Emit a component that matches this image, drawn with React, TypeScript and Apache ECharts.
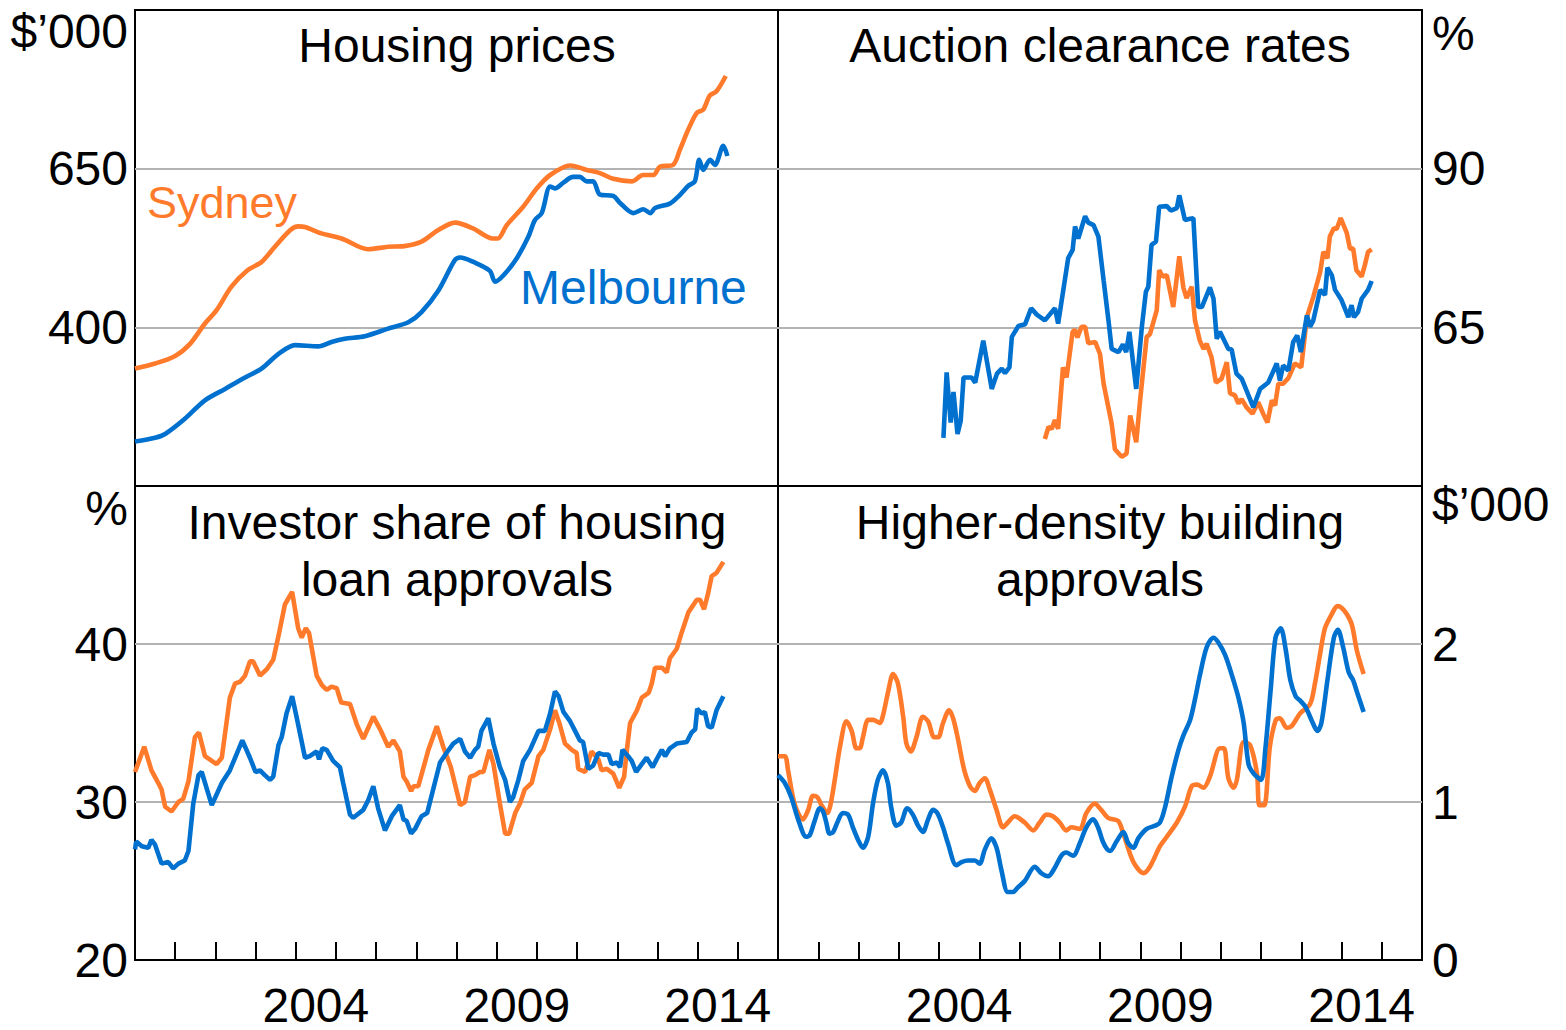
import React, { useEffect, useRef } from 'react';
import * as echarts from 'echarts';

// ---------- DATA (decimal year, value) ----------
const sydPrice = [[2000.0,335],[2000.5,343],[2001.0,355],[2001.37,374],[2001.74,406],[2002.03,427],[2002.4,464],[2002.8,490],[2003.15,503],[2003.48,527],[2003.86,553],[2004.06,559],[2004.23,558],[2004.64,548],[2005.14,540],[2005.8,523],[2006.3,527],[2006.7,528],[2007.13,535],[2007.54,553],[2007.96,565],[2008.41,556],[2008.9,540],[2009.03,540],[2009.25,561],[2009.66,590],[2010.0,619],[2010.33,640],[2010.83,655],[2011.24,648],[2011.57,643],[2011.9,634],[2012.36,630],[2012.64,640],[2012.9,640],[2013.06,653],[2013.39,656],[2013.56,680],[2013.77,712],[2013.98,738],[2014.14,743],[2014.3,765],[2014.47,772],[2014.7,796]];
const melPrice = [[2000.0,220],[2000.5,226],[2000.75,232],[2001.24,256],[2001.74,285],[2002.24,303],[2002.74,321],[2003.15,335],[2003.57,358],[2003.98,372],[2004.56,370],[2004.89,377],[2005.22,382],[2005.72,386],[2006.3,398],[2006.8,408],[2007.13,424],[2007.55,458],[2007.96,506],[2008.09,510],[2008.42,503],[2008.83,489],[2008.96,472],[2009.17,482],[2009.5,509],[2009.79,543],[2009.95,569],[2010.12,580],[2010.33,622],[2010.45,619],[2010.66,628],[2010.9,637],[2011.07,637],[2011.24,630],[2011.4,630],[2011.57,609],[2011.9,607],[2012.07,596],[2012.4,580],[2012.65,586],[2012.82,580],[2012.94,588],[2013.31,595],[2013.52,606],[2013.77,623],[2013.93,630],[2014.04,664],[2014.14,648],[2014.31,664],[2014.43,656],[2014.64,686],[2014.74,670]];

const sydAuction = [[2006.63,47.4],[2006.72,49.3],[2006.8,49.0],[2006.88,50.4],[2006.96,49.0],[2007.08,58.7],[2007.17,57.1],[2007.32,64.3],[2007.38,64.6],[2007.44,63.4],[2007.54,65.1],[2007.63,65.1],[2007.71,62.5],[2007.88,62.7],[2008.0,60.8],[2008.09,56.1],[2008.29,49.8],[2008.37,45.8],[2008.54,44.6],[2008.66,45.1],[2008.75,51.1],[2008.9,46.9],[2009.0,53.7],[2009.16,63.5],[2009.24,63.9],[2009.41,67.7],[2009.47,74.0],[2009.56,73.0],[2009.66,73.2],[2009.82,68.2],[2009.97,76.2],[2010.07,71.3],[2010.15,69.6],[2010.28,71.4],[2010.36,66.1],[2010.48,62.9],[2010.57,61.6],[2010.65,62.4],[2010.77,60.3],[2010.88,56.3],[2011.02,56.9],[2011.15,59.5],[2011.23,54.6],[2011.35,54.3],[2011.44,53.0],[2011.52,53.7],[2011.64,52.4],[2011.79,51.4],[2011.93,53.2],[2012.06,51.3],[2012.16,50.0],[2012.27,53.5],[2012.35,52.7],[2012.43,56.1],[2012.55,56.1],[2012.68,57.0],[2012.84,59.3],[2013.0,58.7],[2013.14,66.6],[2013.3,69.8],[2013.47,73.7],[2013.55,76.9],[2013.65,75.9],[2013.71,79.3],[2013.81,80.6],[2013.88,80.5],[2013.98,82.2],[2014.13,79.9],[2014.21,77.4],[2014.29,77.4],[2014.37,74.0],[2014.5,73.0],[2014.58,74.8],[2014.66,76.9],[2014.75,77.3]];
const melAuction = [[2004.11,47.6],[2004.19,57.9],[2004.29,50.0],[2004.36,54.8],[2004.46,48.2],[2004.54,50.3],[2004.61,57.1],[2004.81,57.1],[2004.9,56.3],[2005.1,62.9],[2005.31,55.3],[2005.44,57.7],[2005.56,58.5],[2005.64,57.8],[2005.75,58.7],[2005.81,63.5],[2005.97,65.2],[2006.14,65.5],[2006.29,68.0],[2006.43,67.0],[2006.63,66.1],[2006.88,68.0],[2006.96,65.6],[2007.21,75.9],[2007.32,77.2],[2007.38,80.9],[2007.46,79.0],[2007.63,82.5],[2007.71,81.5],[2007.84,81.1],[2007.96,79.3],[2008.09,72.4],[2008.21,66.1],[2008.29,61.6],[2008.46,61.1],[2008.57,62.3],[2008.65,61.1],[2008.73,64.3],[2008.9,55.3],[2009.04,65.1],[2009.14,70.6],[2009.2,71.4],[2009.28,78.0],[2009.39,78.5],[2009.47,84.0],[2009.66,84.1],[2009.76,83.4],[2009.91,83.8],[2009.97,85.8],[2010.11,81.9],[2010.24,82.1],[2010.32,82.2],[2010.44,68.2],[2010.53,68.2],[2010.73,71.3],[2010.82,69.5],[2010.9,63.2],[2010.98,64.3],[2011.19,61.6],[2011.27,61.5],[2011.39,57.7],[2011.52,56.9],[2011.81,52.4],[2011.98,55.3],[2012.18,56.3],[2012.39,59.3],[2012.47,56.6],[2012.55,59.0],[2012.68,58.2],[2012.8,62.7],[2012.9,63.7],[2012.99,61.1],[2013.14,66.9],[2013.22,65.1],[2013.3,66.1],[2013.47,70.9],[2013.59,70.1],[2013.65,74.4],[2013.76,73.2],[2013.84,70.9],[2014.0,69.3],[2014.17,66.6],[2014.25,68.5],[2014.31,66.6],[2014.41,67.4],[2014.5,69.5],[2014.66,70.9],[2014.75,72.3]];

const sydInvestor = [[2000.0,31.9],[2000.23,33.5],[2000.41,32.0],[2000.58,31.2],[2000.66,30.8],[2000.75,29.7],[2000.91,29.4],[2001.08,30.0],[2001.2,30.2],[2001.33,31.3],[2001.49,34.1],[2001.59,34.4],[2001.74,32.9],[2002.03,32.4],[2002.16,32.8],[2002.36,36.6],[2002.49,37.5],[2002.61,37.6],[2002.74,38.0],[2002.86,38.9],[2002.94,38.9],[2003.11,38.0],[2003.28,38.4],[2003.44,39.0],[2003.57,40.5],[2003.73,42.5],[2003.91,43.3],[2004.06,41.0],[2004.15,40.4],[2004.25,41.0],[2004.33,40.7],[2004.52,38.0],[2004.65,37.4],[2004.77,37.1],[2004.89,37.3],[2005.02,37.2],[2005.13,36.3],[2005.35,36.2],[2005.52,34.9],[2005.68,34.0],[2005.93,35.4],[2006.1,34.6],[2006.3,33.5],[2006.43,33.9],[2006.59,33.2],[2006.68,31.6],[2006.76,31.3],[2006.87,30.7],[2006.93,31.0],[2007.05,31.0],[2007.3,33.3],[2007.51,34.8],[2007.67,33.5],[2007.86,32.2],[2008.09,29.8],[2008.21,30.0],[2008.34,31.6],[2008.46,31.7],[2008.58,31.9],[2008.67,31.9],[2008.82,33.3],[2008.92,32.4],[2009.08,29.9],[2009.21,28.0],[2009.31,28.0],[2009.46,29.3],[2009.58,29.9],[2009.7,30.8],[2009.87,31.2],[2010.04,32.9],[2010.16,33.3],[2010.33,34.6],[2010.45,35.8],[2010.57,34.9],[2010.7,33.7],[2010.87,33.3],[2010.99,33.1],[2011.03,32.1],[2011.2,31.9],[2011.36,33.2],[2011.53,32.7],[2011.61,32.0],[2011.74,32.1],[2011.9,31.8],[2012.05,30.9],[2012.17,31.6],[2012.24,33.3],[2012.32,35.0],[2012.49,35.8],[2012.61,36.6],[2012.78,36.9],[2012.86,37.5],[2012.94,38.5],[2013.11,38.5],[2013.23,38.2],[2013.31,39.1],[2013.48,39.7],[2013.6,40.7],[2013.77,42.0],[2013.98,42.8],[2014.06,42.8],[2014.16,42.2],[2014.26,43.2],[2014.35,44.3],[2014.47,44.5],[2014.64,45.2]];
const melInvestor = [[2000.0,27.0],[2000.03,27.5],[2000.17,27.2],[2000.33,27.1],[2000.41,27.6],[2000.5,27.3],[2000.66,26.1],[2000.83,26.2],[2000.95,25.8],[2001.08,26.1],[2001.24,26.3],[2001.33,26.9],[2001.45,29.9],[2001.58,31.7],[2001.66,31.9],[2001.91,29.8],[2002.16,31.2],[2002.36,32.0],[2002.49,32.8],[2002.67,33.9],[2002.86,32.8],[2003.0,31.9],[2003.11,32.0],[2003.23,31.7],[2003.36,31.4],[2003.44,31.6],[2003.57,33.6],[2003.65,34.1],[2003.77,35.6],[2003.91,36.7],[2004.06,34.9],[2004.23,32.8],[2004.35,32.9],[2004.52,33.2],[2004.58,32.7],[2004.66,33.4],[2004.77,33.3],[2004.93,32.6],[2005.1,32.2],[2005.18,31.2],[2005.35,29.2],[2005.43,29.0],[2005.68,29.5],[2005.8,30.1],[2005.93,31.0],[2006.05,29.6],[2006.22,28.2],[2006.39,29.1],[2006.59,29.8],[2006.68,28.9],[2006.76,28.8],[2006.87,28.0],[2006.97,28.3],[2007.13,29.1],[2007.27,29.3],[2007.46,31.2],[2007.59,32.5],[2007.75,33.1],[2007.92,33.7],[2008.09,34.0],[2008.21,33.2],[2008.34,32.8],[2008.46,33.3],[2008.54,33.5],[2008.62,34.5],[2008.79,35.3],[2008.92,33.7],[2009.08,32.2],[2009.21,31.4],[2009.33,30.0],[2009.41,30.3],[2009.54,31.4],[2009.66,32.6],[2009.83,33.3],[2010.04,34.5],[2010.2,34.5],[2010.33,35.6],[2010.45,37.0],[2010.54,36.7],[2010.66,35.7],[2010.83,35.1],[2010.95,34.5],[2011.07,33.9],[2011.15,33.8],[2011.28,32.1],[2011.4,32.3],[2011.53,33.1],[2011.65,33.0],[2011.78,33.0],[2011.86,32.4],[2011.99,32.5],[2012.07,32.2],[2012.13,33.3],[2012.27,32.9],[2012.36,32.6],[2012.47,31.9],[2012.61,32.4],[2012.73,32.8],[2012.88,32.2],[2012.98,32.7],[2013.11,33.3],[2013.19,32.9],[2013.31,33.4],[2013.48,33.7],[2013.73,33.8],[2013.85,34.4],[2013.94,34.6],[2013.99,35.9],[2014.1,35.6],[2014.18,35.7],[2014.26,34.8],[2014.35,34.7],[2014.47,35.8],[2014.64,36.7]];

const sydDensity = [[2000.0,1.29],[2000.17,1.29],[2000.25,1.20],[2000.41,0.99],[2000.62,0.89],[2000.75,0.95],[2000.87,1.04],[2000.98,1.03],[2001.08,0.98],[2001.23,0.93],[2001.31,0.99],[2001.41,1.14],[2001.54,1.35],[2001.7,1.51],[2001.83,1.45],[2001.95,1.34],[2002.03,1.34],[2002.11,1.41],[2002.24,1.52],[2002.36,1.52],[2002.53,1.50],[2002.61,1.55],[2002.73,1.69],[2002.86,1.81],[2002.98,1.75],[2003.11,1.54],[2003.19,1.37],[2003.3,1.32],[2003.44,1.41],[2003.6,1.54],[2003.73,1.51],[2003.88,1.41],[2003.98,1.41],[2004.1,1.50],[2004.25,1.58],[2004.35,1.53],[2004.47,1.40],[2004.62,1.21],[2004.77,1.10],[2004.89,1.07],[2005.01,1.12],[2005.14,1.15],[2005.26,1.08],[2005.43,0.95],[2005.59,0.84],[2005.71,0.87],[2005.88,0.91],[2006.13,0.87],[2006.34,0.82],[2006.5,0.87],[2006.67,0.92],[2006.83,0.91],[2007.0,0.87],[2007.16,0.82],[2007.29,0.84],[2007.5,0.83],[2007.66,0.93],[2007.87,0.99],[2008.03,0.95],[2008.2,0.90],[2008.45,0.88],[2008.58,0.80],[2008.83,0.62],[2009.08,0.55],[2009.24,0.59],[2009.49,0.72],[2009.66,0.78],[2009.91,0.87],[2010.11,0.97],[2010.28,1.10],[2010.41,1.11],[2010.57,1.09],[2010.73,1.16],[2010.98,1.34],[2011.08,1.34],[2011.19,1.15],[2011.32,1.09],[2011.4,1.14],[2011.57,1.38],[2011.73,1.36],[2011.9,1.18],[2011.96,0.98],[2012.08,0.98],[2012.22,1.35],[2012.37,1.52],[2012.47,1.53],[2012.64,1.47],[2012.76,1.48],[2012.97,1.56],[2013.22,1.62],[2013.34,1.75],[2013.47,1.94],[2013.59,2.10],[2013.76,2.19],[2013.9,2.24],[2014.0,2.23],[2014.13,2.19],[2014.26,2.12],[2014.38,1.96],[2014.55,1.81]];
const melDensity = [[2000.0,1.17],[2000.17,1.12],[2000.33,1.03],[2000.5,0.89],[2000.7,0.78],[2000.79,0.79],[2000.91,0.88],[2001.04,0.96],[2001.12,0.94],[2001.2,0.87],[2001.28,0.80],[2001.37,0.81],[2001.49,0.88],[2001.61,0.93],[2001.74,0.92],[2001.86,0.84],[2001.99,0.76],[2002.11,0.71],[2002.24,0.78],[2002.36,0.99],[2002.48,1.14],[2002.61,1.20],[2002.73,1.12],[2002.81,0.97],[2002.94,0.85],[2003.06,0.87],[2003.21,0.96],[2003.35,0.92],[2003.48,0.85],[2003.6,0.81],[2003.73,0.89],[2003.85,0.95],[2003.96,0.93],[2004.1,0.84],[2004.22,0.74],[2004.43,0.60],[2004.56,0.62],[2004.72,0.63],[2004.89,0.63],[2005.01,0.61],[2005.14,0.70],[2005.3,0.77],[2005.43,0.71],[2005.55,0.57],[2005.71,0.43],[2005.84,0.43],[2005.96,0.46],[2006.13,0.50],[2006.38,0.59],[2006.54,0.55],[2006.71,0.53],[2006.87,0.58],[2007.04,0.66],[2007.16,0.68],[2007.33,0.66],[2007.5,0.74],[2007.66,0.84],[2007.83,0.89],[2007.95,0.84],[2008.07,0.75],[2008.18,0.70],[2008.25,0.69],[2008.41,0.75],[2008.58,0.81],[2008.7,0.74],[2008.83,0.71],[2008.95,0.77],[2009.16,0.83],[2009.37,0.85],[2009.49,0.87],[2009.62,0.97],[2009.78,1.16],[2009.95,1.33],[2010.07,1.42],[2010.24,1.52],[2010.36,1.65],[2010.48,1.80],[2010.65,1.98],[2010.82,2.04],[2010.94,2.01],[2011.11,1.93],[2011.28,1.80],[2011.44,1.66],[2011.57,1.50],[2011.69,1.24],[2011.82,1.18],[2012.0,1.14],[2012.11,1.34],[2012.24,1.71],[2012.36,2.04],[2012.49,2.10],[2012.61,1.97],[2012.73,1.77],[2012.86,1.67],[2012.98,1.64],[2013.11,1.60],[2013.27,1.51],[2013.4,1.45],[2013.5,1.50],[2013.65,1.77],[2013.81,2.04],[2013.91,2.09],[2014.04,1.98],[2014.18,1.82],[2014.29,1.77],[2014.38,1.70],[2014.55,1.57]];

const yearTicks = [2001,2002,2003,2004,2005,2006,2007,2008,2009,2010,2011,2012,2013,2014,2015];
const yearLabels = [2004, 2009, 2014];
const panelTitles = ['Housing prices', 'Auction clearance rates', 'Investor share of housing\nloan approvals', 'Higher-density building\napprovals'];

const ORANGE = '#ff7a2a';
const BLUE = '#0071cf';
const FONT = '"Liberation Sans", Arial, Helvetica, sans-serif';

export default function App() {
  const ref = useRef<HTMLDivElement>(null);
  useEffect(() => {
    const chart = echarts.init(ref.current!, null, { renderer: 'svg' });
    const gridBoxes = [
      { left: 135, top: 10, width: 643, height: 476 },
      { left: 778, top: 10, width: 644, height: 476 },
      { left: 135, top: 486, width: 643, height: 474 },
      { left: 778, top: 486, width: 644, height: 474 },
    ];
    const grid = gridBoxes.map((g) => ({
      ...g, show: true, borderColor: '#000', borderWidth: 2, backgroundColor: 'transparent',
      containLabel: false, outerBoundsMode: 'none',
    }));
    const labelStyle = { color: '#000', fontSize: 48, fontFamily: FONT };
    const xAxis = [0, 1, 2, 3].map((i) => {
      const bottom = i >= 2;
      return {
        type: 'value', gridIndex: i, min: 2000, max: 2016, interval: 1,
        axisLine: { show: false },
        axisTick: bottom
          ? { show: true, inside: true, length: 18, customValues: yearTicks, lineStyle: { color: '#000', width: 2 } }
          : { show: false },
        axisLabel: bottom
          ? { show: true, ...labelStyle, lineHeight: 40, margin: 25, customValues: yearLabels.map((y) => y + 0.5),
              formatter: (v: number) => String(Math.floor(v)) }
          : { show: false },
        splitLine: { show: false },
      };
    });
    const splitLine = { show: true, showMinLine: false, showMaxLine: false, lineStyle: { color: '#b3b3b3', width: 2 } };
    const yDefs = [
      { min: 150, max: 900, interval: 250, show: [400, 650], pos: 'left' },
      { min: 40, max: 115, interval: 25, show: [65, 90], pos: 'right' },
      { min: 20, max: 50, interval: 10, show: [20, 30, 40], pos: 'left' },
      { min: 0, max: 3, interval: 1, show: [0, 1, 2], pos: 'right' },
    ];
    const yAxis = yDefs.map((d, i) => ({
      type: 'value', gridIndex: i, position: d.pos, min: d.min, max: d.max, interval: d.interval,
      axisLine: { show: false }, axisTick: { show: false },
      axisLabel: { ...labelStyle, margin: d.pos === 'left' ? 7 : 10,
        formatter: (v: number) => (d.show.some((s) => Math.abs(s - v) < 1e-6) ? String(v) : '') },
      splitLine,
    }));
    const mk = (name: string, data: number[][], color: string, idx: number, smooth: number | boolean) => ({
      type: 'line', name, data, xAxisIndex: idx, yAxisIndex: idx, showSymbol: false, smooth,
      lineStyle: { color, width: 4.6 }, itemStyle: { color }, z: color === BLUE ? 4 : 3,
    });
    const series = [
      mk('Sydney', sydPrice, ORANGE, 0, 0.3),
      mk('Melbourne', melPrice, BLUE, 0, 0.3),
      mk('Sydney', sydAuction, ORANGE, 1, false),
      mk('Melbourne', melAuction, BLUE, 1, false),
      mk('Sydney', sydInvestor, ORANGE, 2, false),
      mk('Melbourne', melInvestor, BLUE, 2, false),
      mk('Sydney', sydDensity, ORANGE, 3, 0.3),
      mk('Melbourne', melDensity, BLUE, 3, 0.3),
    ];
    const txt = (text: string, x: number, y: number, align: string, color = '#000', size = 48) => ({
      type: 'text', x, y, z: 10,
      style: { text, fill: color, font: `${size}px ${FONT}`, textAlign: align, textVerticalAlign: 'middle', lineHeight: 57 },
    });
    const graphic = [
      txt(panelTitles[0], 457, 45, 'center'),
      txt(panelTitles[1], 1100, 45, 'center'),
      txt(panelTitles[2], 457, 551, 'center'),
      txt(panelTitles[3], 1100, 551, 'center'),
      txt('$’000', 128, 31, 'right'),
      txt('%', 1432, 33, 'left'),
      txt('%', 128, 508, 'right'),
      txt('$’000', 1432, 504, 'left'),
      txt('Sydney', 147, 202, 'left', ORANGE, 45),
      txt('Melbourne', 520, 287, 'left', BLUE, 48),
    ];
    chart.setOption({ animation: false, grid, xAxis, yAxis, series, graphic });
    return () => chart.dispose();
  }, []);
  return <div ref={ref} style={{ position: 'absolute', left: 0, top: 0, width: 1566, height: 1030, background: '#fff' }} />;
}
